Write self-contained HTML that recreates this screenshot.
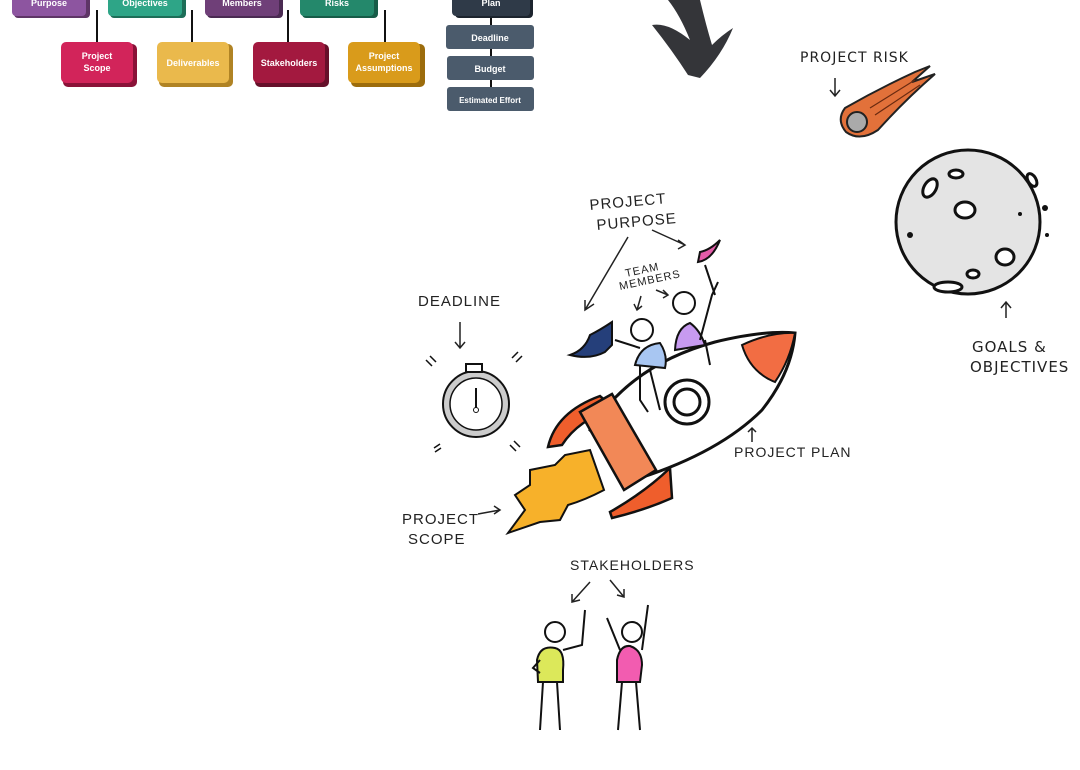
<!DOCTYPE html>
<html><head><meta charset="utf-8"><style>
html,body{margin:0;padding:0;background:#fff;width:1080px;height:770px;overflow:hidden}
svg text{font-family:"Liberation Sans",sans-serif}
.h{font-family:"DejaVu Sans",sans-serif;font-size:15px;fill:#222;letter-spacing:1px}
.b{font-size:9px;font-weight:bold;fill:#fff;text-anchor:middle}
</style></head><body>
<svg width="1080" height="770" viewBox="0 0 1080 770" xmlns="http://www.w3.org/2000/svg">
<g stroke="#111" stroke-width="2">
<line x1="97" y1="10" x2="97" y2="44"/><line x1="192" y1="10" x2="192" y2="44"/>
<line x1="288" y1="10" x2="288" y2="44"/><line x1="385" y1="10" x2="385" y2="44"/>
<line x1="491" y1="15" x2="491" y2="90"/>
</g>
<g>
<rect x="14" y="-6" width="76" height="24" rx="4" fill="#5e3566"/><rect x="12" y="-8" width="74" height="24" rx="4" fill="#8d55a0"/>
<text class="b" x="49" y="6">Purpose</text>
<rect x="110" y="-6" width="76" height="24" rx="4" fill="#1d6e58"/><rect x="108" y="-8" width="74" height="24" rx="4" fill="#2ea587"/>
<text class="b" x="145" y="6">Objectives</text>
<rect x="207" y="-6" width="76" height="24" rx="4" fill="#4a2a52"/><rect x="205" y="-8" width="74" height="24" rx="4" fill="#6f3f78"/>
<text class="b" x="242" y="6">Members</text>
<rect x="302" y="-6" width="76" height="24" rx="4" fill="#175c48"/><rect x="300" y="-8" width="74" height="24" rx="4" fill="#24886b"/>
<text class="b" x="337" y="6">Risks</text>
<rect x="455" y="-6" width="78" height="24" rx="4" fill="#1c242e"/><rect x="452" y="-8" width="78" height="24" rx="4" fill="#2f3a48"/>
<text class="b" x="491" y="6">Plan</text>
<rect x="63" y="44" width="74" height="43" rx="5" fill="#8a1238"/><rect x="61" y="42" width="72" height="41" rx="5" fill="#d2245a"/>
<text class="b" x="97" y="59">Project</text><text class="b" x="97" y="71">Scope</text>
<rect x="159" y="44" width="74" height="43" rx="5" fill="#b08324"/><rect x="157" y="42" width="72" height="41" rx="5" fill="#eab94c"/>
<text class="b" x="193" y="66">Deliverables</text>
<rect x="255" y="44" width="74" height="43" rx="5" fill="#66102a"/><rect x="253" y="42" width="72" height="41" rx="5" fill="#a3193f"/>
<text class="b" x="289" y="66">Stakeholders</text>
<rect x="351" y="44" width="74" height="43" rx="5" fill="#9c6c0c"/><rect x="348" y="42" width="72" height="41" rx="5" fill="#d99b1b"/>
<text class="b" x="384" y="59">Project</text><text class="b" x="384" y="71">Assumptions</text>
<rect x="446" y="25" width="88" height="24" rx="3" fill="#4b5b6c"/><text class="b" x="490" y="41">Deadline</text>
<rect x="447" y="56" width="87" height="24" rx="3" fill="#4b5b6c"/><text class="b" x="490" y="72">Budget</text>
<rect x="447" y="87" width="87" height="24" rx="3" fill="#4b5b6c"/><text class="b" x="490" y="103" style="font-size:8px">Estimated Effort</text>
</g>
<!-- big arrow -->
<path d="M668 0 L700 0 Q706 25 712 45 Q722 35 733 28 Q722 55 700 78 L688 75 Q672 50 652 25 Q668 22 690 40 Q680 15 668 0Z" fill="#343539"/>
<!-- comet -->
<path d="M845 108 Q880 88 915 72 L930 66 L912 82 L935 74 Q905 100 878 130 Q860 142 846 132 Q836 120 845 108Z" fill="#e2713a" stroke="#222" stroke-width="2"/>
<path d="M870 108 L915 80 M875 115 L920 85" stroke="#6a2a10" stroke-width="1.2"/>
<circle cx="857" cy="122" r="10" fill="#aaa" stroke="#222" stroke-width="2"/>
<text class="h" x="800" y="62" style="font-size:14px">PROJECT RISK</text>
<path d="M835 78 L835 96 M830 90 L835 96 L840 90" stroke="#222" fill="none" stroke-width="1.5"/>
<!-- moon -->
<circle cx="968" cy="222" r="72" fill="#e4e4e4" stroke="#111" stroke-width="3"/>
<g fill="#fff" stroke="#111" stroke-width="3">
<ellipse cx="965" cy="210" rx="10" ry="8"/><ellipse cx="1005" cy="257" rx="9" ry="8"/>
<ellipse cx="930" cy="188" rx="6" ry="10" transform="rotate(30 930 188)"/><ellipse cx="956" cy="174" rx="7" ry="4"/>
<ellipse cx="1032" cy="180" rx="4" ry="7" transform="rotate(-30 1032 180)"/><ellipse cx="973" cy="274" rx="6" ry="4"/>
<ellipse cx="948" cy="287" rx="14" ry="5"/>
</g>
<g fill="#111"><circle cx="910" cy="235" r="3"/><circle cx="1045" cy="208" r="3"/><circle cx="1047" cy="235" r="2"/><circle cx="1020" cy="214" r="2"/></g>
<path d="M1006 318 L1006 302 M1001 308 L1006 302 L1011 308" stroke="#222" fill="none" stroke-width="1.5"/>
<text class="h" x="972" y="352">GOALS &amp;</text><text class="h" x="970" y="372">OBJECTIVES</text>
<!-- rocket -->
<path d="M590 430 Q630 365 715 342 Q765 330 795 333 Q792 372 762 410 Q720 452 640 478 Z" fill="#fff" stroke="#111" stroke-width="3"/>
<path d="M742 345 Q770 332 795 333 Q790 360 775 382 Q750 372 742 345Z" fill="#f26d43" stroke="#111" stroke-width="2"/>
<path d="M548 447 Q556 412 600 396 L614 408 Q578 420 562 445Z" fill="#ef5e2c" stroke="#111" stroke-width="2.5"/>
<path d="M610 512 Q645 492 670 468 L672 498 Q645 510 612 518Z" fill="#ef5e2c" stroke="#111" stroke-width="2.5"/>
<path d="M580 412 L612 394 L656 470 L624 490Z" fill="#f28857" stroke="#111" stroke-width="2.5"/>
<path d="M590 450 L604 490 Q585 500 568 505 L560 520 L540 522 L508 533 L525 510 L515 495 L530 485 L530 470 L555 465 L565 455Z" fill="#f7b12a" stroke="#111" stroke-width="2"/>
<circle cx="687" cy="402" r="22" fill="#fff" stroke="#111" stroke-width="3"/><circle cx="687" cy="402" r="13" fill="#fff" stroke="#111" stroke-width="3"/>
<!-- people on rocket -->
<path d="M635 365 Q640 345 660 343 Q668 355 665 368Z" fill="#a8c6f2" stroke="#111" stroke-width="2"/>
<circle cx="642" cy="330" r="11" fill="#fff" stroke="#111" stroke-width="2"/>
<path d="M675 350 Q676 328 690 323 Q700 330 705 345Z" fill="#c79af0" stroke="#111" stroke-width="2"/>
<circle cx="684" cy="303" r="11" fill="#fff" stroke="#111" stroke-width="2"/>
<g stroke="#111" stroke-width="2" fill="none">
<path d="M640 365 L640 400 L648 412 M650 370 L660 410 M640 348 L615 340 M700 340 L712 295 L718 282 M705 340 L710 365"/>
<path d="M705 265 L715 295"/>
</g>
<path d="M612 322 Q600 330 590 335 Q585 350 570 355 Q590 360 605 352 L612 345Z" fill="#253f7a" stroke="#111" stroke-width="2"/>
<path d="M700 252 Q710 250 720 240 Q712 260 698 262Z" fill="#e35ca8" stroke="#111" stroke-width="2"/>
<!-- stopwatch -->
<circle cx="476" cy="404" r="33" fill="#ccc" stroke="#111" stroke-width="2"/>
<circle cx="476" cy="404" r="26" fill="#fff" stroke="#111" stroke-width="1.5"/>
<rect x="466" y="364" width="16" height="8" fill="#fff" stroke="#111" stroke-width="2"/>
<path d="M476 388 L476 408" stroke="#111" stroke-width="2"/><circle cx="476" cy="410" r="2.5" fill="#fff" stroke="#111"/>
<g stroke="#111" stroke-width="1.5"><path d="M426 360 L432 366 M430 356 L436 362 M512 358 L518 352 M516 362 L522 356 M434 448 L440 444 M435 452 L441 448 M510 445 L516 451 M514 441 L520 447"/></g>
<!-- labels & arrows -->
<g class="h">
<text x="590" y="210" transform="rotate(-5 590 210)">PROJECT</text><text x="597" y="230" transform="rotate(-5 597 230)">PURPOSE</text>
<text x="626" y="277" style="font-size:11px" transform="rotate(-12 626 277)">TEAM</text><text x="620" y="290" style="font-size:11px" transform="rotate(-12 620 290)">MEMBERS</text>
<text x="418" y="306">DEADLINE</text>
<text x="734" y="457" style="font-size:14px">PROJECT PLAN</text>
<text x="402" y="524">PROJECT</text><text x="408" y="544">SCOPE</text>
<text x="570" y="570" style="font-size:14px">STAKEHOLDERS</text>
</g>
<g stroke="#222" stroke-width="1.5" fill="none">
<path d="M628 237 L585 310 M585 300 L585 310 L594 304"/>
<path d="M652 230 L685 245 M678 240 L685 245 L678 249"/>
<path d="M641 296 L637 310 M634 304 L637 310 L642 306 M656 290 L668 295 M663 290 L668 295 L663 298"/>
<path d="M460 322 L460 348 M455 342 L460 348 L465 342"/>
<path d="M752 442 L752 428 M748 432 L752 428 L756 432"/>
<path d="M478 514 L500 510 M494 506 L500 510 L494 514"/>
<path d="M590 582 L572 602 M572 594 L572 602 L580 600 M610 580 L624 597 M624 589 L624 597 L617 595"/>
</g>
<!-- stakeholders -->
<path d="M537 660 Q540 645 555 648 Q565 650 563 670 L563 682 L538 682Z" fill="#dce85a" stroke="#111" stroke-width="2"/>
<circle cx="555" cy="632" r="10" fill="#fff" stroke="#111" stroke-width="2"/>
<path d="M617 660 Q620 645 630 646 Q642 650 642 665 L640 682 L617 682Z" fill="#f25cb0" stroke="#111" stroke-width="2"/>
<circle cx="632" cy="632" r="10" fill="#fff" stroke="#111" stroke-width="2"/>
<g stroke="#111" stroke-width="2" fill="none">
<path d="M543 682 L540 730 M557 682 L560 730 M563 650 L582 645 L585 610 M540 660 L533 668 L540 673"/>
<path d="M622 682 L618 730 M636 682 L640 730 M620 650 L607 618 M642 650 L648 605"/>
</g>
</svg>
</body></html>
